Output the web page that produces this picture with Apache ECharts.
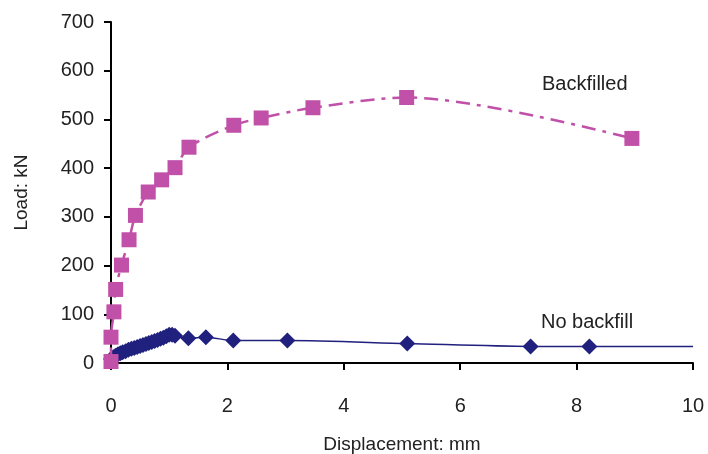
<!DOCTYPE html>
<html><head><meta charset="utf-8">
<script src="https://cdn.jsdelivr.net/npm/echarts@6/dist/echarts.min.js"></script>
<style>html,body{margin:0;padding:0;background:#fff}#c{width:708px;height:454px}</style>
</head><body><div id="c"></div>
<script>
const xTicks = [0, 2, 4, 6, 8, 10];
const yTicks = [0, 100, 200, 300, 400, 500, 600, 700];

const backfilledX = [0.0, 0.0, 0.05, 0.08, 0.18, 0.31, 0.42, 0.64, 0.87, 1.10, 1.34, 2.11, 2.58, 3.47, 5.08, 8.95];
const backfilledY = [3, 53, 105, 151, 201, 253, 303, 351, 376, 401, 443, 488, 503, 524, 545, 461];

const noBackfillX = [0.0, 0.04, 0.08, 0.12, 0.16, 0.2, 0.25, 0.3, 0.35, 0.4, 0.45, 0.5, 0.55, 0.6, 0.65, 0.7, 0.75, 0.8, 0.85, 0.9, 0.95, 1.0, 1.05, 1.1, 1.33, 1.63, 2.10, 3.03, 5.09, 7.21, 8.22, 10.0];
const noBackfillY = [8, 12, 15, 18, 20, 22, 24, 27, 29, 31, 33, 35, 37, 39, 41, 43, 45, 47, 50, 52, 55, 58, 58, 56, 51, 53, 46, 46, 40, 34, 34, 34];

const seriesNames = ['Backfilled', 'No backfill'];
const labelPos = { 'Backfilled': [8.14, 571], 'No backfill': [8.18, 84] };

const pink = '#C050A8';
const navy = '#20207E';
const font = 'Liberation Sans, Arial, sans-serif';

const bfData = backfilledX.map((x, i) => [x, backfilledY[i]]);
const nbData = noBackfillX.map((x, i) => {
  const d = { value: [x, noBackfillY[i]] };
  if (i === noBackfillX.length - 1) d.symbol = 'none';
  return d;
});

function annot(name) {
  return {
    symbol: 'circle', symbolSize: 1,
    itemStyle: { color: 'rgba(0,0,0,0)' },
    label: { show: true, position: 'inside', formatter: name, fontFamily: font, fontSize: 20, color: '#222' },
    data: [{ coord: labelPos[name] }]
  };
}

const chart = echarts.init(document.getElementById('c'));
chart.setOption({
  animation: false,
  backgroundColor: '#fff',
  grid: { left: 111, right: 15, top: 22, bottom: 91, outerBoundsMode: 'none', containLabel: false },
  xAxis: {
    type: 'value', min: 0, max: 10, interval: 2,
    name: 'Displacement: mm', nameLocation: 'middle', nameGap: 72,
    nameTextStyle: { fontFamily: font, fontSize: 19, color: '#222' },
    axisLine: { lineStyle: { color: '#000', width: 2 } },
    axisTick: { show: true, length: 7, lineStyle: { color: '#000', width: 2 } },
    axisLabel: { margin: 33, fontFamily: font, fontSize: 20, color: '#222',
      formatter: v => xTicks.includes(v) ? String(v) : '' },
    splitLine: { show: false }
  },
  yAxis: {
    type: 'value', min: 0, max: 700, interval: 100,
    name: 'Load: kN', nameLocation: 'middle', nameGap: 80,
    nameTextStyle: { fontFamily: font, fontSize: 19, color: '#222' },
    axisLine: { show: true, lineStyle: { color: '#000', width: 2 } },
    axisTick: { show: true, length: 7, lineStyle: { color: '#000', width: 2 } },
    axisLabel: { margin: 17, fontFamily: font, fontSize: 20, color: '#222',
      formatter: v => yTicks.includes(v) ? String(v) : '' },
    splitLine: { show: false }
  },
  series: [
    {
      name: seriesNames[1], type: 'line', smooth: 0.3, z: 2,
      data: nbData,
      symbol: 'diamond', symbolSize: [16, 16],
      itemStyle: { color: navy },
      lineStyle: { color: navy, width: 1.5 },
      markPoint: annot(seriesNames[1])
    },
    {
      name: seriesNames[0], type: 'line', smooth: 0.3, z: 3,
      data: bfData,
      symbol: 'rect', symbolSize: 15,
      itemStyle: { color: pink },
      lineStyle: { color: pink, width: 2.5, type: [14, 7, 4, 7] },
      markPoint: annot(seriesNames[0])
    }
  ]
});
</script></body></html>
